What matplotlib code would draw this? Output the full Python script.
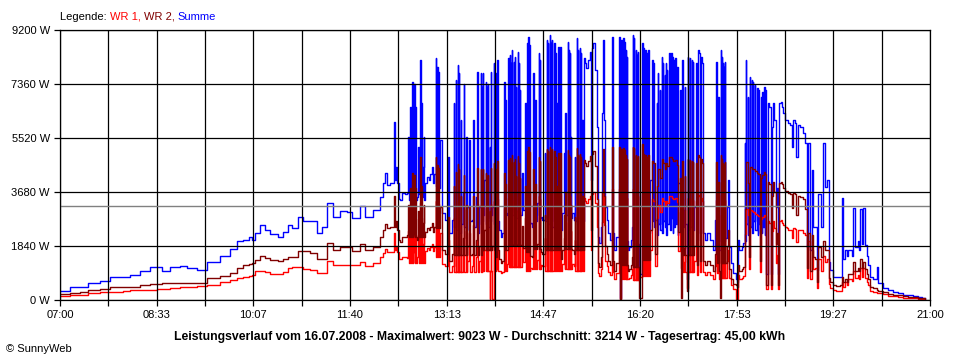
import matplotlib.pyplot as plt

plt.rcParams['font.family'] = ['Liberation Sans', 'DejaVu Sans']
plt.rcParams['font.size'] = 8

# Messzeitpunkte (HH:MM) und Leistung in W
zeit = [
    "07:00", "07:10", "07:19", "07:27", "07:39", "07:48", "08:01", "08:08", "08:17", "08:27",
    "08:34", "08:38", "08:46", "08:56", "09:03", "09:12", "09:22", "09:34", "09:44", "09:51",
    "09:57", "10:02", "10:05", "10:08", "10:13", "10:18", "10:23", "10:30", "10:35", "10:40",
    "10:44", "10:50", "10:55", "11:01", "11:08", "11:13", "11:18", "11:24", "11:30", "11:37",
    "11:42", "11:50", "11:54", "12:02", "12:09", "12:12", "12:14", "12:16", "12:19", "12:22",
    "12:23", "12:24", "12:25", "12:27", "12:28", "12:30", "12:33", "12:35", "12:36", "12:38",
    "12:40", "12:41", "12:42", "12:43", "12:45", "12:46", "12:48", "12:49", "12:50", "12:51",
    "12:52", "12:54", "12:56", "12:57", "12:59", "13:00", "13:01", "13:03", "13:04", "13:05",
    "13:07", "13:09", "13:12", "13:15", "13:16", "13:18", "13:20", "13:22", "13:24", "13:25",
    "13:27", "13:29", "13:30", "13:32", "13:33", "13:35", "13:38", "13:39", "13:42", "13:43",
    "13:45", "13:46", "13:47", "13:48", "13:49", "13:51", "13:52", "13:53", "13:55", "13:56",
    "13:57", "13:59", "14:00", "14:01", "14:02", "14:04", "14:06", "14:07", "14:09", "14:10",
    "14:12", "14:13", "14:14", "14:15", "14:16", "14:18", "14:19", "14:20", "14:22", "14:23",
    "14:24", "14:26", "14:27", "14:29", "14:31", "14:32", "14:33", "14:34", "14:36", "14:37",
    "14:39", "14:41", "14:42", "14:43", "14:44", "14:45", "14:48", "14:50", "14:51", "14:53",
    "14:54", "14:55", "14:57", "14:58", "14:59", "15:01", "15:02", "15:03", "15:04", "15:05",
    "15:07", "15:08", "15:10", "15:11", "15:12", "15:13", "15:14", "15:16", "15:17", "15:19",
    "15:20", "15:22", "15:23", "15:24", "15:26", "15:27", "15:28", "15:30", "15:32", "15:33",
    "15:34", "15:35", "15:37", "15:38", "15:39", "15:40", "15:42", "15:43", "15:44", "15:45",
    "15:46", "15:48", "15:49", "15:51", "15:53", "15:54", "15:55", "15:57", "15:58", "16:00",
    "16:01", "16:02", "16:04", "16:05", "16:06", "16:07", "16:08", "16:09", "16:11", "16:12",
    "16:13", "16:14", "16:16", "16:17", "16:18", "16:19", "16:22", "16:23", "16:25", "16:27",
    "16:28", "16:30", "16:32", "16:33", "16:34", "16:36", "16:37", "16:39", "16:41", "16:42",
    "16:44", "16:45", "16:46", "16:48", "16:50", "16:51", "16:52", "16:54", "16:56", "16:57",
    "16:59", "17:00", "17:01", "17:02", "17:03", "17:05", "17:06", "17:08", "17:10", "17:11",
    "17:12", "17:14", "17:15", "17:16", "17:17", "17:18", "17:19", "17:20", "17:21", "17:23",
    "17:25", "17:26", "17:28", "17:30", "17:32", "17:33", "17:34", "17:35", "17:36", "17:37",
    "17:38", "17:39", "17:40", "17:41", "17:42", "17:44", "17:45", "17:46", "17:48", "17:50",
    "17:52", "17:53", "17:54", "17:55", "17:56", "17:58", "17:59", "18:01", "18:02", "18:04",
    "18:05", "18:06", "18:08", "18:09", "18:11", "18:13", "18:14", "18:16", "18:17", "18:18",
    "18:20", "18:21", "18:22", "18:24", "18:25", "18:26", "18:27", "18:28", "18:29", "18:31",
    "18:32", "18:33", "18:34", "18:36", "18:37", "18:38", "18:40", "18:42", "18:43", "18:45",
    "18:47", "18:48", "18:50", "18:51", "18:53", "18:54", "18:57", "18:59", "19:01", "19:02",
    "19:04", "19:06", "19:07", "19:09", "19:11", "19:12", "19:15", "19:17", "19:19", "19:21",
    "19:22", "19:23", "19:26", "19:29", "19:33", "19:35", "19:36", "19:38", "19:40", "19:41",
    "19:43", "19:45", "19:46", "19:48", "19:50", "19:51", "19:52", "19:54", "19:55", "19:57",
    "19:59", "20:00", "20:02", "20:05", "20:09", "20:10", "20:15", "20:19", "20:24", "20:29",
    "20:34", "20:39", "20:44", "20:48", "20:52", "20:55",
]

summe = [
    320, 430, 440, 590, 660, 770, 800, 850, 1000, 1140,
    1140, 1000, 1110, 1160, 1080, 1020, 1300, 1500, 1730, 2020,
    2040, 2130, 2040, 2270, 2560, 2390, 2250, 2130, 2330, 2560,
    2440, 2840, 2700, 2700, 2270, 2500, 3290, 2840, 3030, 3010,
    2780, 3200, 2840, 3070, 3500, 3970, 4330, 3920, 3970, 6080,
    4090, 4540, 3990, 3430, 3410, 3630, 3600, 3630, 5570, 6590,
    7440, 3900, 7360, 6590, 3520, 5230, 8180, 6700, 4540, 5570,
    3990, 4200, 4090, 4300, 4540, 3990, 4300, 8240, 7940, 7780,
    5450, 2950, 2730, 4880, 2270, 2730, 6700, 7500, 8010, 7720,
    6130, 3630, 7360, 5570, 3180, 5450, 2730, 6130, 3520, 7780,
    3180, 7720, 7270, 7720, 4090, 7440, 7270, 7360, 5230, 7780,
    3180, 8070, 7720, 2500, 8180, 2390, 2160, 2270, 7440, 6820,
    2950, 8240, 8350, 8070, 8520, 8120, 8290, 7270, 8460, 8070,
    7160, 4320, 3070, 6700, 8750, 8970, 8690, 2610, 2500, 7720,
    6820, 3290, 8400, 8180, 2840, 2730, 5000, 8860, 8750, 9020,
    8750, 8860, 8750, 8400, 6700, 8630, 6820, 8630, 2390, 2950,
    5000, 6360, 8800, 8520, 8400, 5570, 2950, 2730, 4880, 8920,
    8520, 8570, 8400, 6130, 8240, 8070, 7900, 8180, 8460, 4090,
    8600, 8750, 7840, 5910, 2160, 1930, 2500, 6360, 8860, 6130,
    3180, 2730, 2270, 2040, 8970, 2270, 1700, 2160, 2160, 8970,
    60, 8860, 8920, 8800, 8520, 8290, 1700, 1820, 2040, 2500,
    9020, 8920, 8520, 8350, 8460, 900, 8750, 8570, 8520, 8400,
    8520, 4090, 8180, 8070, 2730, 6700, 7720, 7160, 8290, 8070,
    7670, 8070, 7840, 8400, 8400, 8290, 8180, 8240, 7950, 3990,
    7160, 2500, 8180, 3070, 7270, 700, 8290, 8240, 8180, 8120,
    3180, 8070, 2040, 8520, 8400, 2270, 8290, 8070, 2270, 2040,
    2270, 2270, 2040, 1700, 2730, 8120, 2160, 6930, 1700, 1700,
    8520, 8290, 8070, 7950, 8120, 3180, 4090, 1820, 1250, 910,
    910, 700, 600, 2040, 1700, 1800, 1930, 5340, 8180, 6930,
    2500, 7610, 7500, 7440, 7330, 7210, 7160, 2270, 6930, 7100,
    7270, 7160, 900, 6700, 6590, 900, 5910, 6700, 6130, 3180,
    3800, 900, 6700, 6760, 6590, 6360, 6130, 6130, 6020, 5960,
    5230, 6130, 6020, 4880, 5960, 5900, 5700, 5340, 1820, 5340,
    1700, 4430, 2500, 2500, 1020, 3600, 2500, 5340, 3860, 4100,
    1300, 1020, 800, 780, 790, 3460, 1400, 1700, 1500, 1700,
    1700, 1500, 3130, 1800, 2000, 1700, 3100, 1900, 3130, 1860,
    1500, 1200, 800, 700, 1140, 570, 400, 340, 280, 240,
    170, 160, 150, 110, 80, 60,
]

wr2 = [
    200, 250, 280, 340, 390, 430, 450, 460, 520, 550,
    560, 570, 580, 590, 590, 590, 740, 820, 910, 1100,
    1190, 1230, 1250, 1350, 1500, 1420, 1360, 1320, 1400, 1480,
    1480, 1680, 1680, 1590, 1400, 1400, 1950, 1720, 1800, 1810,
    1680, 1900, 1700, 1800, 2150, 2400, 2600, 2450, 2500, 3550,
    2500, 2700, 2400, 2050, 1980, 2150, 2130, 2200, 3230, 3820,
    4320, 2260, 4270, 3820, 2040, 3030, 4880, 3890, 2630, 3230,
    2310, 2440, 2370, 2490, 2630, 2310, 2490, 4880, 4610, 4510,
    3160, 1710, 1580, 2830, 1320, 1580, 3890, 4350, 4650, 4480,
    3560, 2110, 4270, 3230, 1840, 3160, 1580, 3560, 2040, 4510,
    1840, 4480, 4220, 4480, 2370, 4320, 4220, 4270, 3030, 4510,
    1840, 4680, 4480, 1450, 4740, 1390, 1250, 1320, 4320, 3960,
    1710, 4780, 4840, 4680, 4940, 4710, 4810, 4220, 4910, 4680,
    4150, 2510, 1780, 3890, 5080, 5200, 5040, 1510, 1450, 4480,
    3960, 1910, 4870, 4740, 1650, 1580, 2900, 5140, 5080, 5230,
    5080, 5140, 5080, 4870, 3890, 5010, 3960, 5010, 1390, 1710,
    2900, 3690, 5100, 4940, 4870, 3230, 1710, 1580, 2830, 5170,
    4940, 4970, 4870, 3560, 4780, 4680, 4580, 4740, 4910, 2370,
    4990, 5080, 4550, 3430, 1250, 1120, 1450, 3690, 5140, 3560,
    1840, 1580, 1320, 1180, 5200, 1320, 990, 1250, 1250, 5200,
    40, 5140, 5170, 5100, 4940, 4810, 990, 1060, 1180, 1450,
    5230, 5170, 4940, 4840, 4910, 80, 5300, 4970, 4940, 4870,
    4940, 2370, 4740, 4680, 1580, 3890, 4480, 4150, 4810, 4680,
    4450, 4680, 4550, 4870, 4870, 4810, 4740, 4780, 4610, 2310,
    4150, 80, 4740, 1780, 4220, 300, 4810, 4780, 4740, 4710,
    1840, 4680, 1180, 4940, 4870, 1320, 4810, 4680, 1320, 1180,
    1320, 1320, 1180, 990, 1580, 4710, 1250, 4020, 990, 60,
    4940, 4810, 4680, 4610, 4710, 1840, 2370, 1060, 730, 530,
    530, 500, 450, 1180, 990, 1040, 1120, 3100, 4700, 4000,
    1450, 4540, 4480, 4450, 4400, 4330, 4300, 1320, 4160, 4260,
    4360, 4300, 520, 4020, 3950, 520, 3550, 4020, 3680, 1910,
    2280, 520, 4000, 4020, 3950, 3810, 3700, 3700, 3650, 3600,
    3150, 3650, 3600, 2900, 3550, 3500, 3450, 3100, 1080, 2300,
    1000, 2200, 1450, 1400, 600, 1800, 1450, 2000, 1700, 1700,
    750, 600, 500, 480, 500, 800, 600, 700, 600, 900,
    900, 900, 1300, 1000, 1100, 1000, 1400, 1100, 1300, 1050,
    900, 700, 450, 400, 350, 320, 280, 220, 180, 160,
    120, 110, 100, 80, 60, 40,
]

wr1 = [
    130, 160, 180, 230, 260, 280, 310, 330, 340, 350,
    360, 370, 400, 450, 460, 470, 510, 600, 680, 760,
    800, 830, 850, 1000, 1000, 950, 890, 880, 960, 1080,
    1110, 1120, 1060, 1020, 930, 910, 1340, 1190, 1200, 1190,
    1180, 1300, 1150, 1250, 1450, 1600, 1750, 1650, 1650, 2300,
    1700, 1850, 1650, 1400, 1400, 1480, 1470, 1430, 2340, 2770,
    3120, 1640, 3090, 2770, 1480, 2200, 3300, 2810, 1910, 2340,
    1680, 1760, 1720, 1810, 1910, 1680, 1810, 3360, 3330, 3270,
    2290, 1240, 1150, 2050, 950, 1150, 2810, 3150, 3360, 3240,
    2570, 1520, 3090, 2340, 1340, 2290, 1150, 2570, 1480, 3270,
    1340, 3240, 3050, 3240, 1720, 3120, 3050, 3090, 40, 3270,
    30, 3390, 3240, 1050, 3440, 1000, 910, 950, 3120, 2860,
    1240, 3460, 3510, 3390, 3580, 3410, 3480, 3050, 3550, 3390,
    3010, 1810, 1290, 2810, 3670, 3770, 3650, 1100, 1050, 3240,
    2860, 1380, 3530, 3440, 1190, 1150, 2100, 3720, 3670, 3790,
    3670, 3720, 3670, 3530, 2810, 3620, 2860, 3620, 1000, 1240,
    2100, 2670, 3700, 3580, 3530, 2340, 1240, 1150, 2050, 3750,
    3580, 3600, 3530, 2570, 3460, 3390, 3320, 3440, 3550, 1720,
    3610, 3670, 3290, 2480, 910, 810, 1050, 2670, 3720, 2570,
    1340, 1150, 950, 860, 3770, 950, 710, 910, 910, 3770,
    20, 3720, 3750, 3700, 3580, 3480, 710, 760, 860, 1050,
    3790, 3750, 3580, 3510, 3550, 800, 3600, 3600, 3580, 3530,
    3580, 1720, 3440, 3390, 1150, 2810, 3240, 3010, 3480, 3390,
    3220, 3390, 3290, 3530, 3530, 3480, 3440, 3460, 3340, 1680,
    3010, 1100, 3440, 1290, 3050, 400, 3480, 3460, 3440, 3410,
    1340, 3390, 860, 3580, 3530, 950, 3480, 3390, 950, 860,
    950, 950, 860, 710, 1150, 3410, 910, 2910, 710, 900,
    3580, 3480, 3390, 3340, 3410, 1340, 1720, 760, 520, 380,
    380, 20, 30, 860, 710, 760, 810, 2240, 3100, 2900,
    1050, 3070, 3020, 2990, 2930, 2880, 2860, 950, 2770, 2840,
    2910, 2860, 380, 2680, 2640, 380, 2360, 2680, 2450, 1270,
    1520, 380, 2700, 2740, 2640, 2550, 2500, 2450, 2400, 2380,
    2100, 2450, 2420, 1980, 2400, 2400, 2300, 2200, 740, 2000,
    700, 1700, 1050, 1100, 420, 1400, 1000, 1500, 1300, 1400,
    550, 420, 330, 300, 300, 600, 450, 600, 500, 700,
    700, 650, 1000, 750, 850, 700, 1100, 800, 1100, 750,
    600, 500, 300, 270, 250, 230, 200, 150, 120, 100,
    80, 70, 60, 50, 40, 30,
]

# Einbrueche zwischen den Minutenwerten (halbe Minute spaeter), in W
zeit_tief = [
    "12:36:30", "12:38:30", "12:40:30", "12:42:30", "12:43:30", "12:46:30", "12:48:30", "12:49:30", "12:51:30",
    "13:03:30", "13:04:30", "13:05:30",
    "13:20:30", "13:22:30", "13:24:30", "13:25:30", "13:27:30", "13:30:30", "13:32:30", "13:35:30",
    "13:39:30", "13:43:30", "13:46:30",
    "13:47:30", "13:48:30", "13:51:30", "13:52:30", "13:53:30", "13:55:30", "13:56:30", "13:59:30",
    "14:00:30", "14:02:30", "14:09:30", "14:10:30",
    "14:13:30", "14:14:30", "14:15:30", "14:16:30", "14:18:30", "14:19:30", "14:20:30", "14:22:30",
    "14:23:30", "14:24:30",
    "14:29:30", "14:31:30", "14:32:30", "14:33:30",
    "14:37:30", "14:39:30", "14:42:30", "14:43:30",
    "14:48:30", "14:50:30", "14:51:30", "14:53:30", "14:54:30", "14:55:30", "14:57:30", "14:58:30",
    "14:59:30", "15:01:30", "15:02:30", "15:03:30",
    "15:07:30", "15:08:30", "15:10:30", "15:11:30", "15:12:30", "15:13:30",
    "15:17:30", "15:19:30", "15:20:30", "15:22:30", "15:23:30", "15:24:30",
    "16:02:30", "16:04:30", "16:05:30", "16:06:30", "16:07:30",
    "16:13:30", "16:14:30", "16:16:30", "16:17:30", "16:18:30",
    "16:22:30", "16:23:30", "16:25:30", "16:27:30", "16:28:30",
    "16:32:30", "16:33:30", "16:36:30", "16:37:30", "16:39:30", "16:41:30", "16:42:30", "16:44:30",
    "16:45:30", "16:46:30", "16:48:30", "16:50:30", "16:51:30", "16:52:30", "16:54:30", "16:56:30",
    "16:59:30",
    "17:01:30", "17:03:30", "17:06:30", "17:08:30", "17:10:30", "17:11:30",
    "17:38:30", "17:39:30", "17:40:30", "17:41:30", "17:42:30",
    "18:01:30", "18:02:30", "18:04:30", "18:06:30", "18:08:30", "18:09:30", "18:11:30", "18:13:30",
    "18:14:30", "18:17:30", "18:18:30", "18:20:30", "18:21:30",
]

summe_tief = [
    3400, 3300, 3500, 3200, 3400, 3600, 3300, 3500, 3400,
    3900, 4000, 3800,
    2500, 2400, 2700, 2300, 2600, 2500, 2400, 2700,
    2500, 2300, 2600,
    2700, 2900, 2600, 2800, 2500, 2700, 2900, 2600,
    2800, 2700, 2600, 2900,
    3000, 2800, 3100, 2900, 3000, 3200, 2800, 3000,
    3100, 2900,
    2600, 2500, 2700, 2600,
    2800, 2700, 2900, 2800,
    2700, 2800, 2600, 2900, 2700, 2500, 2800, 2700,
    2600, 2900, 2700, 2800,
    2800, 2900, 2700, 2800, 3000, 2800,
    2700, 2600, 2800, 2700, 2900, 2700,
    1900, 2000, 1800, 1900, 2000,
    1800, 1900, 1700, 1800, 1900,
    2200, 2300, 2100, 2200, 2300,
    2700, 2500, 2200, 2600, 2400, 2300, 2700, 2500,
    2200, 2600, 2400, 2800, 2300, 2500, 2600, 2200,
    2400,
    2500, 2600, 2400, 2500, 2700, 2400,
    2000, 2100, 1900, 2000, 2100,
    2000, 2600, 2200, 2500, 2300, 2700, 2400, 2200,
    2600, 2300, 2500, 2200, 2400,
]

wr2_tief = [
    2150, 2150, 2150, 2150, 2150, 2150, 2150, 2150, 2150,
    2450, 2450, 2450,
    1550, 1550, 1550, 1550, 1550, 1550, 1550, 1550,
    1550, 1550, 1550,
    1700, 1700, 1700, 1700, 1700, 1700, 1700, 1700,
    1700, 1700, 1700, 1700,
    1880, 1880, 1880, 1880, 1880, 1880, 1880, 1880,
    1880, 1880,
    1620, 1620, 1620, 1620,
    1750, 1750, 1750, 1750,
    1700, 1700, 1700, 1700, 1700, 1700, 1700, 1700,
    1700, 1700, 1700, 1700,
    1750, 1750, 1750, 1750, 1750, 1750,
    1700, 1700, 1700, 1700, 1700, 1700,
    1180, 1180, 1180, 1180, 1180,
    1120, 1120, 1120, 1120, 1120,
    1370, 1370, 1370, 1370, 1370,
    4740, 4680, 3890, 4480, 4150, 4810, 4680, 4450,
    4680, 4550, 4870, 4870, 4810, 4740, 4780, 4610,
    4150,
    1550, 1550, 1550, 1550, 1550, 1550,
    1250, 1250, 1250, 1250, 1250,
    3100, 4700, 4000, 4540, 4480, 4450, 4400, 4330,
    4300, 4160, 4260, 4360, 4300,
]

wr1_tief = [
    1250, 1250, 1250, 1250, 1250, 1250, 1250, 1250, 1250,
    1450, 1450, 1450,
    950, 950, 950, 950, 950, 950, 950, 950,
    950, 950, 950,
    1000, 1000, 1000, 1000, 1000, 1000, 1000, 1000,
    1000, 1000, 1000, 1000,
    1120, 1120, 1120, 1120, 1120, 1120, 1120, 1120,
    1120, 1120,
    980, 980, 980, 980,
    1050, 1050, 1050, 1050,
    1000, 1000, 1000, 1000, 1000, 1000, 1000, 1000,
    1000, 1000, 1000, 1000,
    1050, 1050, 1050, 1050, 1050, 1050,
    1000, 1000, 1000, 1000, 1000, 1000,
    720, 720, 720, 720, 720,
    680, 680, 680, 680, 680,
    830, 830, 830, 830, 830,
    3440, 3390, 2810, 3240, 3010, 3480, 3390, 3220,
    3390, 3290, 3530, 3530, 3480, 3440, 3460, 3340,
    3010,
    950, 950, 950, 950, 950, 950,
    750, 750, 750, 750, 750,
    2240, 3100, 2900, 3070, 3020, 2990, 2930, 2880,
    2860, 2770, 2840, 2910, 2860,
]

y_werte = [0, 1840, 3680, 5520, 7360, 9200]
x_beschriftung = ["07:00", "08:33", "10:07", "11:40", "13:13",
                  "14:47", "16:20", "17:53", "19:27", "21:00"]
durchschnitt = 3214
legende = [("Legende: ", "black"), ("WR 1, ", "#ff0000"),
           ("WR 2, ", "#800000"), ("Summe", "#0000ff")]
titel = ("Leistungsverlauf vom 16.07.2008 - Maximalwert: 9023 W - "
         "Durchschnitt: 3214 W - Tagesertrag: 45,00 kWh")

assert len(zeit) == len(summe) == len(wr2) == len(wr1)
assert len(zeit_tief) == len(summe_tief) == len(wr2_tief) == len(wr1_tief)


def in_minuten(t):
    # Minuten seit 07:00
    teile = [int(p) for p in t.split(":")]
    sek = teile[2] if len(teile) > 2 else 0
    return teile[0] * 60 + teile[1] + sek / 60 - 7 * 60


punkte = sorted(
    [(in_minuten(t), s, a, b) for t, s, a, b in zip(zeit, summe, wr2, wr1)]
    + [(in_minuten(t), s, a, b) for t, s, a, b in zip(zeit_tief, summe_tief, wr2_tief, wr1_tief)]
)
minuten = [p[0] for p in punkte]
y_summe = [p[1] for p in punkte]
y_wr2 = [p[2] for p in punkte]
y_wr1 = [p[3] for p in punkte]

fig = plt.figure(figsize=(9.6, 3.6), dpi=100)
ax = fig.add_axes([60 / 960, 60 / 360, 870 / 960, 270 / 360])

ax.plot(minuten, y_summe, color="#0000ff", lw=1, drawstyle="steps-post", zorder=2)
ax.plot(minuten, y_wr1, color="#ff0000", lw=1, drawstyle="steps-post", zorder=2.1)
ax.plot(minuten, y_wr2, color="#800000", lw=1, drawstyle="steps-post", zorder=2.2)

ax.set_xlim(0, 840)
ax.set_ylim(0, 9200)

ticks = [i * 840 / 18 for i in range(19)]
ax.set_xticks(ticks)
ax.set_xticklabels([x_beschriftung[i // 2] if i % 2 == 0 else "" for i in range(19)])
ax.set_yticks(y_werte)
ax.set_yticklabels([f"{v} W" for v in y_werte])

ax.grid(True, color="black", lw=0.9)
ax.set_axisbelow(False)
ax.axhline(durchschnitt, color="#808080", lw=1, zorder=3)

ax.tick_params(direction="out", length=4.3, width=0.9, pad=3, colors="black", labelsize=8)
for s in ax.spines.values():
    s.set_linewidth(0.9)
    s.set_zorder(4)

# Legende oben links, mehrfarbig
renderer = fig.canvas.get_renderer()
x = 60 / 960
for txt, col in legende:
    t = fig.text(x, 1 - 16.5 / 360, txt, color=col, fontsize=8, va="center")
    bb = t.get_window_extent(renderer)
    x = fig.transFigure.inverted().transform((bb.x1, 0))[0]

fig.text(0.5, 1 - 337 / 360, titel, ha="center", va="center", fontsize=8.8, fontweight="bold")
fig.text(6 / 960, 1 - 349 / 360, "\u00a9 SunnyWeb", ha="left", va="center", fontsize=8)

fig.savefig("out.png", dpi=100)
